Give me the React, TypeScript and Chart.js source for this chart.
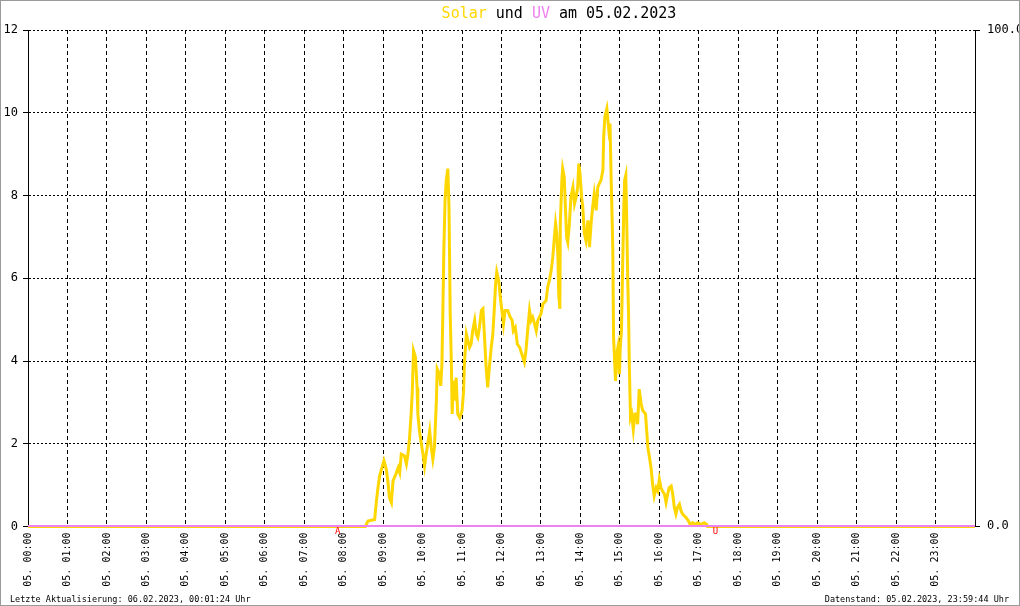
import React, { useEffect, useRef } from 'react';
import { Chart, registerables } from 'chart.js';

Chart.register(...registerables);

const SOLAR_COLOR = '#FFD700';
const UV_COLOR = '#EE82EE';
const MONO = '"DejaVu Sans Mono", "Liberation Mono", monospace';

const hourLabels = [
  '05. 00:00', '05. 01:00', '05. 02:00', '05. 03:00', '05. 04:00', '05. 05:00',
  '05. 06:00', '05. 07:00', '05. 08:00', '05. 09:00', '05. 10:00', '05. 11:00',
  '05. 12:00', '05. 13:00', '05. 14:00', '05. 15:00', '05. 16:00', '05. 17:00',
  '05. 18:00', '05. 19:00', '05. 20:00', '05. 21:00', '05. 22:00', '05. 23:00',
];

const leftTicksMax = 12;
const rightTicks = [0, 100];

const titleParts: [string, string][] = [
  ['Solar', SOLAR_COLOR],
  [' und ', '#000000'],
  ['UV', UV_COLOR],
  [' am 05.02.2023', '#000000'],
];

const footerLeft = 'Letzte Aktualisierung: 06.02.2023, 00:01:24 Uhr';
const footerRight = 'Datenstand: 05.02.2023, 23:59:44 Uhr';

// sunrise (A = Aufgang) and sunset (U = Untergang), hours
const sunMarkers: [string, number][] = [
  ['A', 7.85],
  ['U', 17.42],
];

// Solar series: time in hours, value
const solarTimes = [
  0, 8.55, 8.615, 8.785, 8.83, 8.87, 8.91, 8.97, 9.02, 9.08, 9.12, 9.16, 9.21, 9.25, 9.32, 9.38,
  9.42, 9.46, 9.54, 9.59, 9.63, 9.67, 9.71, 9.74, 9.77, 9.82, 9.86, 9.88, 9.92, 9.97, 10.01,
  10.05, 10.09, 10.13, 10.18, 10.22, 10.26, 10.30, 10.35, 10.37, 10.43, 10.46, 10.49, 10.51,
  10.54, 10.57, 10.60, 10.64, 10.67, 10.70, 10.73, 10.75, 10.78, 10.81, 10.85, 10.89, 10.94,
  11.00, 11.04, 11.06, 11.11, 11.15, 11.19, 11.23, 11.27, 11.32, 11.36, 11.40, 11.44, 11.49,
  11.53, 11.57, 11.61, 11.65, 11.70, 11.74, 11.78, 11.82, 11.85, 11.88, 11.93, 11.97, 12.02,
  12.05, 12.09, 12.16, 12.22, 12.27, 12.30, 12.35, 12.40, 12.46, 12.54, 12.58, 12.62, 12.67,
  12.71, 12.75, 12.79, 12.84, 12.88, 12.92, 13.00, 13.05, 13.13, 13.17, 13.22, 13.26, 13.30,
  13.34, 13.37, 13.40, 13.43, 13.45, 13.48, 13.49, 13.53, 13.55, 13.59, 13.62, 13.65, 13.68,
  13.72, 13.76, 13.81, 13.85, 13.89, 13.93, 13.96, 13.99, 14.03, 14.06, 14.10, 14.14, 14.19,
  14.23, 14.27, 14.31, 14.35, 14.40, 14.44, 14.48, 14.52, 14.57, 14.59, 14.62, 14.67, 14.69,
  14.72, 14.75, 14.78, 14.82, 14.84, 14.89, 14.92, 14.95, 14.99, 15.01, 15.04, 15.07, 15.10,
  15.12, 15.15, 15.17, 15.20, 15.22, 15.24, 15.27, 15.30, 15.34, 15.38, 15.41, 15.45, 15.49,
  15.54, 15.58, 15.65, 15.68, 15.71, 15.75, 15.79, 15.83, 15.87, 15.92, 15.96, 16.00, 16.04,
  16.08, 16.13, 16.17, 16.21, 16.25, 16.30, 16.34, 16.38, 16.42, 16.46, 16.51, 16.55, 16.59,
  16.68, 16.74, 16.78, 16.84, 16.93, 16.97, 17.06, 17.14, 17.20, 17.22, 24,
];

const solarValues = [
  0, 0, 0.13, 0.17, 0.62, 0.94, 1.22, 1.42, 1.59, 1.38, 1.10, 0.70, 0.58, 1.10, 1.26, 1.42,
  1.30, 1.75, 1.71, 1.51, 1.75, 2.15, 2.72, 3.28, 4.25, 4.09, 3.36, 2.72, 2.31, 1.99, 1.75,
  1.46, 1.75, 1.99, 2.31, 1.91, 1.63, 1.91, 3.04, 3.81, 3.68, 3.40, 3.93, 4.98,
  6.75, 7.88, 8.37, 8.65, 7.72, 5.14, 3.93, 2.72, 3.52, 3.04, 3.60, 2.72, 2.63,
  2.80, 3.28, 3.93, 4.65, 4.49, 4.33, 4.41, 4.73, 4.98, 4.65, 4.57, 4.81, 5.22,
  5.26, 4.57, 3.85, 3.36, 3.93, 4.33, 4.65, 5.30, 5.86, 6.15, 5.94, 5.54, 5.14,
  4.89, 5.22, 5.22, 5.06, 4.98, 4.73, 4.81, 4.41, 4.33, 4.09, 3.97, 4.25, 4.81,
  5.22, 4.98, 5.06, 4.89, 4.73, 4.98, 5.14, 5.38, 5.46, 5.78, 5.98, 6.19, 6.51,
  6.99, 7.32, 7.08, 6.51, 5.62, 5.26, 7.32, 8.37, 8.65, 8.45, 7.72, 6.99, 6.87,
  7.32, 7.96, 8.20, 7.80, 7.96, 8.20, 8.77, 8.53, 7.96, 7.72, 7.08, 6.91, 7.40,
  6.75, 7.32, 7.72, 8.04, 7.64, 8.20, 8.29, 8.37, 8.61, 9.41, 9.90, 10.10, 9.90,
  9.58, 9.74, 8.37, 6.75, 4.57, 3.52, 4.17, 4.33, 3.68, 4.33, 4.73, 6.27, 7.72,
  8.37, 8.49, 7.56, 5.94, 5.14, 3.85, 2.63, 2.72, 2.35, 2.72, 2.72, 2.47, 3.32,
  2.96, 2.80, 2.72, 2.31, 1.91, 1.67, 1.42, 1.02, 0.74, 0.94, 0.86, 1.14, 0.94,
  0.86, 0.78, 0.58, 0.78, 0.94, 0.98, 0.78, 0.46, 0.30, 0.46, 0.54, 0.38, 0.30,
  0.21, 0.13, 0.05, 0.09, 0.05, 0.09, 0.05, 0.09, 0.05, 0, 0,
];

// UV series: time in hours, value (right axis)
const uvTimes = [0, 24];
const uvValues = [0, 0];

const decorPlugin = {
  id: 'decor',
  beforeDraw(chart: any) {
    const { ctx, width, height } = chart;
    ctx.save();
    ctx.fillStyle = '#ffffff';
    ctx.fillRect(0, 0, width, height);
    ctx.restore();
  },
  afterDraw(chart: any) {
    const { ctx, width, height } = chart;
    ctx.save();
    // title
    ctx.font = `15px ${MONO}`;
    ctx.textBaseline = 'alphabetic';
    ctx.textAlign = 'left';
    let total = 0;
    for (const [t] of titleParts) total += ctx.measureText(t).width;
    let x = 559 - total / 2;
    for (const [t, c] of titleParts) {
      ctx.fillStyle = c;
      ctx.fillText(t, x, 18);
      x += ctx.measureText(t).width;
    }
    // sunrise / sunset markers
    const xs = chart.scales.x;
    ctx.font = `9px ${MONO}`;
    ctx.fillStyle = '#ff0000';
    ctx.textAlign = 'center';
    ctx.textBaseline = 'top';
    for (const [lbl, h] of sunMarkers) {
      ctx.fillText(lbl, xs.getPixelForValue(h), 527.5);
    }
    // footers
    ctx.font = `8.5px ${MONO}`;
    ctx.fillStyle = '#000000';
    ctx.textBaseline = 'alphabetic';
    ctx.textAlign = 'left';
    ctx.fillText(footerLeft, 10, 602);
    ctx.textAlign = 'right';
    ctx.fillText(footerRight, 1009, 602);
    // outer border
    ctx.strokeStyle = '#9a9a9a';
    ctx.lineWidth = 1;
    ctx.strokeRect(0.5, 0.5, width - 1, height - 1);
    ctx.restore();
  },
};

export default function App() {
  const canvasRef = useRef<HTMLCanvasElement | null>(null);

  useEffect(() => {
    document.body.style.margin = '0';
    const canvas = canvasRef.current;
    if (!canvas) return;

    const solarData = solarTimes.map((t, i) => ({ x: t, y: solarValues[i] }));
    const uvData = uvTimes.map((t, i) => ({ x: t, y: uvValues[i] }));

    const chart = new Chart(canvas, {
      type: 'line',
      data: {
        datasets: [
          {
            label: 'UV',
            data: uvData,
            yAxisID: 'y1',
            borderColor: UV_COLOR,
            borderWidth: 2,
            pointRadius: 0,
            tension: 0,
            order: 1,
            clip: false,
          },
          {
            label: 'Solar',
            data: solarData,
            yAxisID: 'y',
            borderColor: SOLAR_COLOR,
            borderWidth: 3,
            pointRadius: 0,
            tension: 0,
            order: 2,
            clip: false,
          },
        ],
      },
      options: {
        responsive: false,
        animation: false,
        parsing: false,
        layout: { padding: { top: 30, left: 0, right: 0, bottom: 0 } },
        plugins: {
          legend: { display: false },
          title: { display: false },
          tooltip: { enabled: false },
        },
        scales: {
          x: {
            type: 'linear',
            min: 0,
            max: 24,
            ticks: {
              stepSize: 1,
              autoSkip: false,
              minRotation: 90,
              maxRotation: 90,
              padding: 6,
              color: '#000',
              font: { family: MONO, size: 10 },
              callback: (v: any) => hourLabels[Math.round(Number(v))] ?? '',
            },
            grid: { color: '#000', lineWidth: 1, drawTicks: false },
            border: { display: false, dash: [4, 3] },
            afterFit: (s: any) => {
              s.height = 79.5;
            },
          },
          y: {
            position: 'left',
            min: 0,
            max: leftTicksMax,
            ticks: {
              stepSize: 2,
              padding: 5,
              color: '#000',
              font: { family: MONO, size: 12 },
            },
            grid: {
              color: '#000',
              lineWidth: 1,
              tickLength: 5,
              tickColor: '#000',
              tickBorderDash: [],
            },
            border: { display: true, color: '#000', width: 1, dash: [2, 2] },
            afterFit: (s: any) => {
              s.width = 28;
            },
          },
          y1: {
            position: 'right',
            min: -0.1008,
            max: 100,
            afterBuildTicks: (s: any) => {
              s.ticks = rightTicks.map((v) => ({ value: v }));
            },
            ticks: {
              padding: 7,
              color: '#000',
              font: { family: MONO, size: 12 },
              callback: (v: any) => Number(v).toFixed(1),
            },
            grid: {
              drawOnChartArea: false,
              tickLength: 5,
              tickColor: '#000',
              color: '#000',
            },
            border: { display: true, color: '#000', width: 1 },
            afterFit: (s: any) => {
              s.width = 45;
            },
          },
        },
      },
      plugins: [decorPlugin],
    } as any);

    return () => {
      chart.destroy();
    };
  }, []);

  return (
    <div style={{ width: 1020, height: 606 }}>
      <canvas ref={canvasRef} width={1020} height={606} style={{ display: 'block' }} />
    </div>
  );
}
